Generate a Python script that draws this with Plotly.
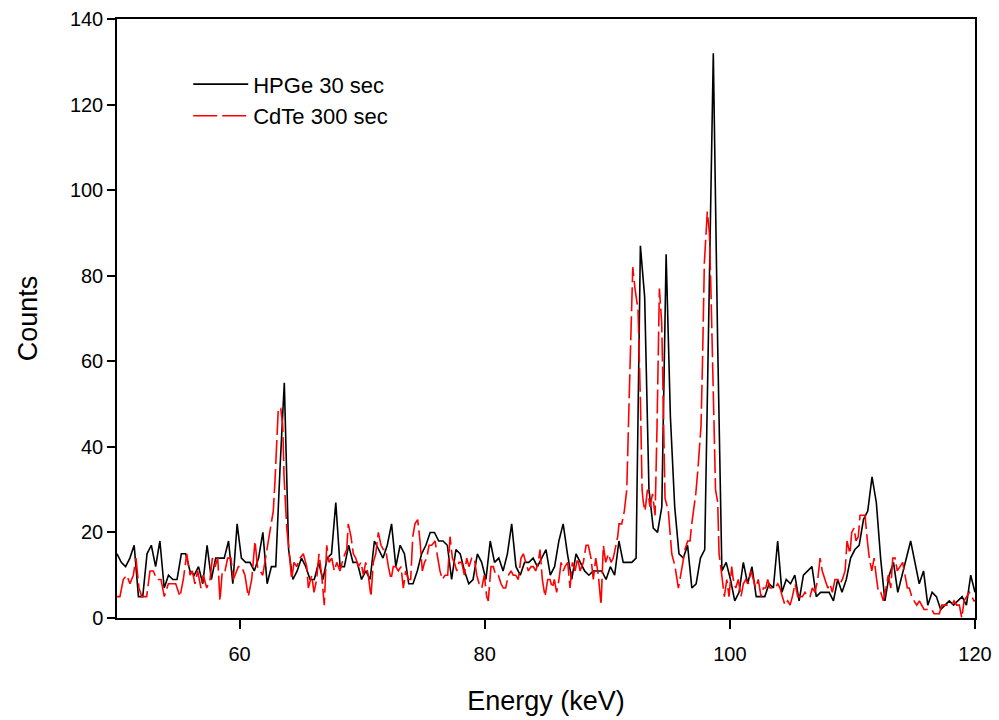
import numpy as np
import plotly.graph_objects as go

# ---------------- data ----------------
# HPGe 30 sec spectrum: channels on a regular energy grid
hpge_start_kev = 50.0
hpge_step_kev = 0.35
hpge_counts = [
    15, 13, 12, 14, 17, 5, 5, 15, 17, 12,
    18, 7, 10, 9, 9, 15, 15, 11, 10, 12,
    8, 17, 9, 14, 14, 14, 18, 8, 22, 14,
    13, 13, 11, 14, 20, 8, 12, 12, 35, 55,
    16, 9, 11, 14, 12, 9, 9, 13, 9, 14,
    15, 27, 12, 12, 17, 13, 13, 9, 11, 9,
    18, 16, 14, 17, 22, 12, 17, 15, 8, 8,
    11, 15, 17, 20, 20, 18, 18, 17, 9, 16,
    15, 11, 8, 9, 15, 13, 9, 18, 13, 14,
    11, 15, 22, 12, 10, 13, 13, 14, 12, 14,
    16, 10, 12, 18, 22, 15, 9, 15, 13, 11,
    10, 11, 11, 11, 9, 12, 10, 18, 13, 13,
    13, 14, 87, 75, 30, 21, 20, 26, 85, 47,
    26, 15, 14, 17, 7, 8, 14, 16, 70, 132,
    65, 11, 13, 9, 4, 6, 13, 8, 12, 5,
    5, 5, 8, 7, 18, 6, 9, 8, 10, 4,
    10, 11, 12, 5, 6, 6, 6, 4, 9, 6,
    9, 14, 16, 17, 23, 25, 33, 27, 14, 4,
    10, 13, 6, 10, 14, 18, 13, 8, 11, 3,
    6, 5, 2, 3, 4, 3, 4, 5, 3, 10, 6,
]

# CdTe 300 sec spectrum
cdte_energy = [
    50.00, 50.24, 50.51, 50.79, 51.06, 51.33, 51.55, 51.79, 52.02, 52.42,
    52.69, 52.96, 53.24, 53.59, 53.86, 54.19, 54.46, 54.79, 55.14, 55.41,
    55.69, 55.96, 56.14, 56.36, 56.58, 56.85, 57.04, 57.32, 57.59, 57.78,
    58.00, 58.22, 58.40, 58.59, 58.81, 59.03, 59.30, 59.49, 59.90, 60.17,
    60.44, 60.71, 60.99, 61.26, 61.46, 61.67, 61.89, 62.06, 62.34, 62.54,
    62.75, 62.89, 63.03, 63.16, 63.36, 63.52, 63.63, 63.85, 64.06, 64.25,
    64.44, 64.66, 64.93, 65.20, 65.48, 65.61, 65.89, 66.07, 66.29, 66.48,
    66.70, 66.91, 67.11, 67.30, 67.52, 67.73, 67.93, 68.19, 68.46, 68.74,
    68.87, 69.09, 69.28, 69.48, 69.69, 69.91, 70.10, 70.29, 70.50, 70.72,
    70.91, 71.11, 71.32, 71.54, 71.73, 71.92, 72.14, 72.36, 72.54, 72.74,
    72.95, 73.17, 73.36, 73.55, 73.77, 73.96, 74.13, 74.31, 74.53, 74.72,
    74.91, 75.09, 75.27, 75.46, 75.68, 75.95, 76.17, 76.35, 76.54, 76.76,
    76.98, 77.17, 77.36, 77.52, 77.72, 77.90, 78.12, 78.34, 78.53, 78.72,
    78.94, 79.15, 79.35, 79.54, 79.76, 79.97, 80.16, 80.29, 80.51, 80.70,
    80.90, 81.11, 81.33, 81.52, 81.71, 81.93, 82.15, 82.33, 82.53, 82.74,
    82.96, 83.15, 83.35, 83.56, 83.78, 83.97, 84.16, 84.37, 84.51, 84.70,
    84.92, 85.14, 85.33, 85.52, 85.68, 85.87, 86.06, 86.23, 86.41, 86.55,
    86.77, 86.96, 87.15, 87.37, 87.59, 87.78, 88.05, 88.27, 88.45, 88.67,
    88.86, 89.06, 89.27, 89.49, 89.68, 89.87, 90.09, 90.31, 90.49, 90.63,
    90.85, 90.96, 91.18, 91.39, 91.59, 91.82, 92.08, 92.26, 92.51, 92.71,
    92.84, 92.94, 93.08, 93.28, 93.49, 93.69, 93.90, 94.06, 94.25, 94.44,
    94.59, 94.71, 94.98, 95.26, 95.53, 95.80, 95.93, 96.12, 96.34, 96.56,
    96.75, 96.89, 97.02, 97.22, 97.40, 97.65, 97.77, 97.92, 98.16, 98.33,
    98.47, 98.59, 98.71, 98.83, 99.01, 99.12, 99.34, 99.55, 99.75, 99.93,
    100.15, 100.28, 100.48, 100.69, 100.91, 101.10, 101.30, 101.51, 101.73, 101.92,
    102.11, 102.32, 102.54, 102.73, 102.93, 103.09, 103.28, 103.47, 103.68, 103.91,
    104.09, 104.28, 104.50, 104.72, 104.91, 105.10, 105.32, 105.54, 105.73, 105.91,
    106.13, 106.36, 106.54, 106.73, 106.95, 107.17, 107.36, 107.54, 107.76, 107.99,
    108.17, 108.36, 108.58, 108.80, 108.99, 109.18, 109.40, 109.56, 109.80, 109.94,
    110.13, 110.29, 110.48, 110.62, 110.84, 111.03, 111.22, 111.38, 111.58, 111.77,
    111.93, 112.12, 112.31, 112.52, 112.74, 112.93, 113.13, 113.29, 113.48, 113.66,
    113.88, 114.10, 114.29, 114.48, 114.64, 114.84, 115.03, 115.25, 115.46, 115.66,
    115.84, 116.06, 116.28, 116.47, 116.66, 116.88, 117.09, 117.29, 117.47, 117.69,
    117.91, 118.10, 118.29, 118.51, 118.72, 118.92, 119.11, 119.33, 119.54, 119.73,
    119.92, 120.00,
]
cdte_counts = [
    5, 5, 9, 10, 8, 10, 14, 7, 5, 5,
    11, 11, 9, 9, 5, 8, 8, 8, 5, 9,
    15, 10, 11, 8, 11, 7, 10, 7, 9, 14,
    12, 14, 4, 11, 11, 14, 14, 9, 12, 12,
    10, 5, 9, 18, 12, 11, 10, 13, 18, 21,
    25, 32, 40, 49, 49, 45, 33, 21, 15, 9,
    13, 12, 14, 15, 12, 7, 10, 6, 9, 15,
    10, 3, 17, 13, 14, 11, 13, 11, 14, 16,
    22, 19, 15, 14, 12, 13, 10, 13, 10, 5,
    13, 15, 20, 17, 16, 16, 12, 9, 12, 12,
    11, 12, 7, 11, 9, 9, 19, 22, 23, 18,
    11, 13, 14, 17, 17, 18, 14, 11, 9, 10,
    10, 19, 14, 13, 11, 13, 13, 10, 14, 12,
    14, 14, 10, 8, 7, 10, 5, 4, 12, 12,
    10, 10, 8, 7, 7, 10, 11, 10, 10, 9,
    14, 15, 13, 11, 12, 12, 11, 13, 16, 9,
    5, 9, 9, 7, 9, 6, 9, 13, 11, 12,
    13, 7, 13, 11, 14, 11, 13, 17, 17, 14,
    9, 14, 10, 3, 17, 13, 15, 13, 14, 16,
    19, 22, 22, 25, 30, 55, 82, 77, 72, 50,
    30, 27, 25, 30, 26, 29, 24, 45, 77, 69,
    45, 28, 25, 15, 12, 7, 9, 12, 16, 18,
    18, 22, 25, 29, 35, 45, 60, 83, 95, 90,
    75, 60, 40, 30, 27, 15, 10, 5, 9, 5,
    12, 9, 7, 9, 5, 8, 9, 8, 11, 9,
    7, 9, 5, 7, 7, 9, 7, 7, 7, 8,
    7, 5, 3, 4, 3, 5, 8, 5, 5, 5,
    6, 5, 5, 7, 6, 9, 14, 11, 9, 7,
    8, 6, 9, 9, 8, 9, 11, 18, 15, 20,
    21, 18, 19, 24, 24, 24, 18, 14, 11, 14,
    10, 6, 6, 4, 7, 10, 7, 14, 14, 11,
    12, 13, 10, 7, 7, 5, 4, 3, 4, 3,
    2, 2, 2, 2, 1, 1, 1, 3, 3, 3,
    3, 3, 4, 3, 3, 0, 4, 5, 6, 5,
    4, 4,
]

series_names = ["HPGe 30 sec", "CdTe 300 sec"]
x_ticks = [60, 80, 100, 120]
y_ticks = [0, 20, 40, 60, 80, 100, 120, 140]

hpge_energy = hpge_start_kev + hpge_step_kev * np.arange(len(hpge_counts))
n_c = min(len(cdte_energy), len(cdte_counts))

FONT = "Arial, Liberation Sans, sans-serif"

fig = go.Figure()
fig.add_trace(go.Scatter(
    x=hpge_energy, y=hpge_counts, mode="lines", name=series_names[0],
    line=dict(color="black", width=1.6),
))
fig.add_trace(go.Scatter(
    x=cdte_energy[:n_c], y=cdte_counts[:n_c], mode="lines", name=series_names[1],
    line=dict(color="red", width=1.6, dash="24px,5px"),
))

axis_common = dict(
    showgrid=False, zeroline=False, showline=True, linecolor="black",
    linewidth=1.5, mirror=True, ticks="outside", tickwidth=1.5,
    tickcolor="black", tickfont=dict(family=FONT, size=20, color="black"),
    automargin=False,
)

fig.update_layout(
    width=999, height=720,
    margin=dict(l=117, r=24, t=19, b=102),
    paper_bgcolor="white", plot_bgcolor="white",
    font=dict(family=FONT, color="black"),
    showlegend=True,
    legend=dict(
        x=0.083, y=0.926, xanchor="left", yanchor="top",
        bgcolor="rgba(0,0,0,0)", borderwidth=0,
        font=dict(family=FONT, size=22, color="black"),
        itemwidth=55, tracegroupgap=0,
    ),
    xaxis=dict(
        range=[50, 120], tickvals=x_ticks, ticklen=9, ticklabelstandoff=8,
        title=dict(text="Energy (keV)", font=dict(family=FONT, size=27), standoff=27),
        **axis_common,
    ),
    yaxis=dict(
        range=[0, 140], tickvals=y_ticks, ticklen=8,
        title=dict(text="Counts", font=dict(family=FONT, size=27), standoff=24),
        **axis_common,
    ),
)

fig.write_html("out.html")
